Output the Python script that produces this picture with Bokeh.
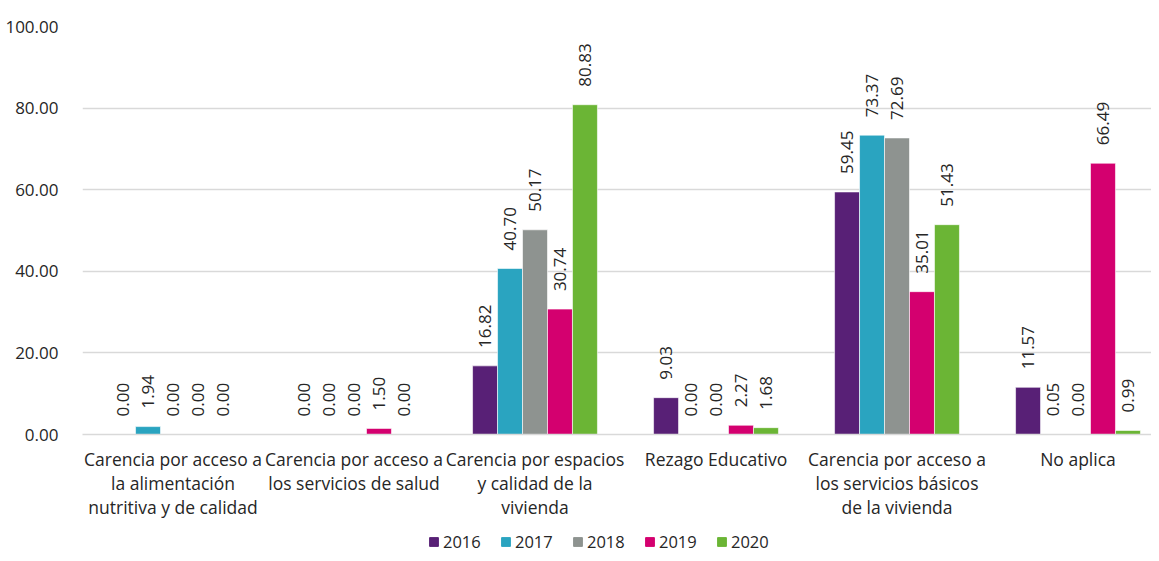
from bokeh.plotting import figure
from bokeh.models import ColumnDataSource, LabelSet, Legend, LegendItem, NumeralTickFormatter, FixedTicker, Range1d
from bokeh.core.properties import value
from bokeh.layouts import column
from bokeh.embed import file_html
from bokeh.resources import INLINE

categories = [
    "Carencia por acceso a\nla alimentación\nnutritiva y de calidad",
    "Carencia por acceso a\nlos servicios de salud",
    "Carencia por espacios\ny calidad de la\nvivienda",
    "Rezago Educativo",
    "Carencia por acceso a\nlos servicios básicos\nde la vivienda",
    "No aplica",
]
years = ["2016", "2017", "2018", "2019", "2020"]
v2016 = [0.00, 0.00, 16.82, 9.03, 59.45, 11.57]
v2017 = [1.94, 0.00, 40.70, 0.00, 73.37, 0.05]
v2018 = [0.00, 0.00, 50.17, 0.00, 72.69, 0.00]
v2019 = [0.00, 1.50, 30.74, 2.27, 35.01, 66.49]
v2020 = [0.00, 0.00, 80.83, 1.68, 51.43, 0.99]
series = [v2016, v2017, v2018, v2019, v2020]
colors = ["#582076", "#2AA4C0", "#8E9390", "#D4006F", "#6BB535"]
y_ticks = [0, 20, 40, 60, 80, 100]

FONT = "Open Sans"
TXT = "#262626"
NUM_SIZE = "17px"

idx = list(range(len(categories)))

p = figure(x_range=Range1d(-0.5, 5.406), y_range=Range1d(0, 100), width=1151, height=530,
           output_backend="svg", toolbar_location=None,
           min_border_left=82, min_border_right=0, min_border_top=26, min_border_bottom=96)
p.outline_line_color = None
p.background_fill_color = "white"
p.border_fill_color = "white"

bw = 0.138
offsets = [-2 * bw, -bw, 0, bw, 2 * bw]
for yr, vals, col, off in zip(years, series, colors, offsets):
    src = ColumnDataSource(dict(x=[i + off for i in idx], val=vals,
                                lab=["%.2f" % v for v in vals]))
    p.vbar(x="x", top="val", width=bw, source=src,
           fill_color=col, line_color="white", line_width=0.6)
    ls = LabelSet(x="x", y="val", text="lab", source=src,
                  angle=90, angle_units="deg", y_offset=18, text_align="left",
                  text_baseline="middle", text_font=value(FONT), text_font_size=NUM_SIZE,
                  text_color=TXT)
    p.add_layout(ls)

p.yaxis.ticker = FixedTicker(ticks=y_ticks)
p.yaxis.formatter = NumeralTickFormatter(format="0.00")
p.yaxis.axis_line_color = None
p.yaxis.major_tick_line_color = None
p.yaxis.minor_tick_line_color = None
p.yaxis.major_label_standoff = 18
p.yaxis.major_label_text_font = FONT
p.yaxis.major_label_text_font_size = NUM_SIZE
p.yaxis.major_label_text_color = TXT

p.xaxis.ticker = FixedTicker(ticks=idx)
p.xaxis.major_label_overrides = {i: c for i, c in zip(idx, categories)}
p.xaxis.axis_line_color = "#D9D9D9"
p.xaxis.axis_line_width = 1.5
p.xaxis.major_tick_line_color = None
p.xaxis.minor_tick_line_color = None
p.xaxis.major_label_standoff = 6
p.xaxis.major_label_text_font = FONT
p.xaxis.major_label_text_font_size = "17.5px"
p.xaxis.major_label_text_color = TXT
p.xaxis.major_label_text_line_height = 1.0

p.xgrid.grid_line_color = None
p.ygrid.grid_line_color = "#D9D9D9"
p.ygrid.grid_line_width = 1.5

# legend strip
lg = figure(x_range=Range1d(0, 1), y_range=Range1d(0, 1), width=1151, height=23,
            output_backend="svg", toolbar_location=None,
            x_axis_type=None, y_axis_type=None,
            min_border_left=0, min_border_right=0, min_border_top=0, min_border_bottom=0)
lg.outline_line_color = None
lg.xgrid.grid_line_color = None
lg.ygrid.grid_line_color = None
lg.background_fill_color = "white"
lg.border_fill_color = "white"
items = []
for yr, col in zip(years, colors):
    r = lg.vbar(x=[-5], top=[-5], width=0.1, fill_color=col, line_color=col)
    items.append(LegendItem(label=yr, renderers=[r]))
legend = Legend(items=items, orientation="horizontal", location=(346, 0),
                glyph_width=11, glyph_height=11, label_standoff=4, spacing=17,
                label_width=40, label_height=20,
                padding=0, margin=0, border_line_alpha=0, background_fill_alpha=0,
                label_text_font=FONT, label_text_font_size="16.5px", label_text_color=TXT)
lg.add_layout(legend, "center")

layout = column(p, lg, spacing=0)
open("out.html", "w").write(file_html(layout, INLINE))
